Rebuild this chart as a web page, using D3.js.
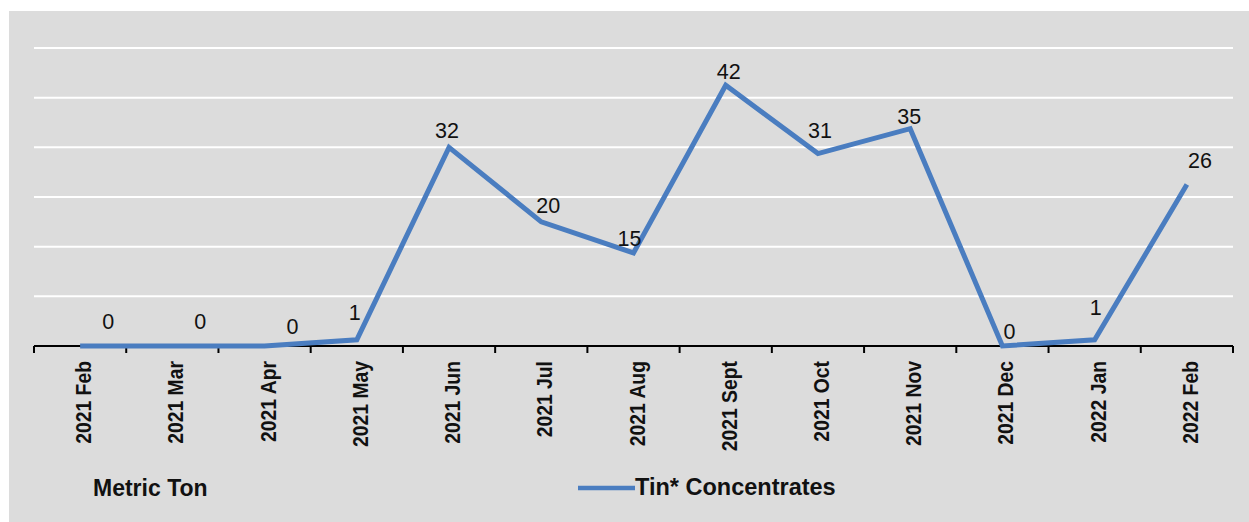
<!DOCTYPE html>
<html>
<head>
<meta charset="utf-8">
<script src="https://cdn.jsdelivr.net/npm/d3@7/dist/d3.min.js"></script>
<style>
  html, body { margin: 0; padding: 0; background: #fff; }
  #chart { width: 1249px; height: 522px; }
  text { font-family: Arial, "Liberation Sans", sans-serif; }
</style>
</head>
<body>
<div id="chart"></div>
<script>
const months = ["2021 Feb", "2021 Mar", "2021 Apr", "2021 May", "2021 Jun", "2021 Jul",
    "2021 Aug", "2021 Sept", "2021 Oct", "2021 Nov", "2021 Dec", "2022 Jan", "2022 Feb"];
const tinValues = [0, 0, 0, 1, 32, 20, 15, 42, 31, 35, 0, 1, 26];
const gridTicks = [0, 8, 16, 24, 32, 40, 48];
const seriesName = "Tin* Concentrates";
const unitLabel = "Metric Ton";

// label nudges (relative to each point), like Excel's hand-dragged labels
const labelNudge = [[28, -17], [28, -17], [28, -12], [-2, -20], [-2, -9], [7, -9],
    [-4, -7], [3, -6], [2, -16], [-1, -5], [7, -7], [1, -25], [13, -17]];

const width = 1249, height = 522,
    margin = {left: 34, right: 16, top: 48, bottom: 176},
    lineColor = "#4a7dc0";

const svg = d3.select("#chart").append("svg")
    .attr("width", width)
    .attr("height", height);

svg.append("rect")
    .attr("x", 9).attr("y", 11)
    .attr("width", width - 9).attr("height", height - 11)
    .attr("fill", "#dcdcdc");

const x = d3.scaleBand()
    .domain(months)
    .range([margin.left, width - margin.right]);

const y = d3.scaleLinear()
    .domain([0, 48])
    .range([height - margin.bottom, margin.top]);

// gridlines
svg.append("g")
    .selectAll("line")
    .data(gridTicks.filter(d => d > 0))
    .enter().append("line")
    .attr("x1", margin.left)
    .attr("x2", width - margin.right)
    .attr("y1", d => y(d))
    .attr("y2", d => y(d))
    .attr("stroke", "#fff")
    .attr("stroke-width", 2);

// x axis line + ticks at band edges
const axisY = y(0);
svg.append("line")
    .attr("x1", margin.left).attr("x2", width - margin.right)
    .attr("y1", axisY).attr("y2", axisY)
    .attr("stroke", "#000").attr("stroke-width", 2);

const edges = months.map(m => x(m)).concat([x(months[months.length - 1]) + x.bandwidth()]);
svg.append("g")
    .selectAll("line")
    .data(edges)
    .enter().append("line")
    .attr("x1", d => d).attr("x2", d => d)
    .attr("y1", axisY).attr("y2", axisY + 7)
    .attr("stroke", "#000").attr("stroke-width", 2);

// category labels
svg.append("g")
    .selectAll("text")
    .data(months)
    .enter().append("text")
    .attr("transform", d => `translate(${x(d) + x.bandwidth() / 2 + 11},${axisY + 15}) rotate(-90) scale(0.86,1)`)
    .attr("text-anchor", "end")
    .attr("font-size", 22.5)
    .attr("font-weight", "bold")
    .attr("fill", "#111")
    .text(d => d);

// series line
const line = d3.line()
    .x((d, i) => x(months[i]) + x.bandwidth() / 2)
    .y(d => y(d));

svg.append("path")
    .datum(tinValues)
    .attr("d", line)
    .attr("fill", "none")
    .attr("stroke", lineColor)
    .attr("stroke-width", 5)
    .attr("stroke-linejoin", "miter");

// data labels
svg.append("g")
    .selectAll("text")
    .data(tinValues)
    .enter().append("text")
    .attr("x", (d, i) => x(months[i]) + x.bandwidth() / 2 + labelNudge[i][0])
    .attr("y", (d, i) => y(d) + labelNudge[i][1])
    .attr("text-anchor", "middle")
    .attr("font-size", 21.5)
    .attr("fill", "#111")
    .text(d => d);

// unit label
svg.append("text")
    .attr("x", 93).attr("y", 496)
    .attr("font-size", 23)
    .attr("font-weight", "bold")
    .attr("fill", "#111")
    .text(unitLabel);

// legend
svg.append("line")
    .attr("x1", 578).attr("x2", 635)
    .attr("y1", 488).attr("y2", 488)
    .attr("stroke", lineColor).attr("stroke-width", 4.5);

svg.append("text")
    .attr("x", 635).attr("y", 495)
    .attr("font-size", 23.5)
    .attr("font-weight", "bold")
    .attr("fill", "#111")
    .text(seriesName);
</script>
</body>
</html>
